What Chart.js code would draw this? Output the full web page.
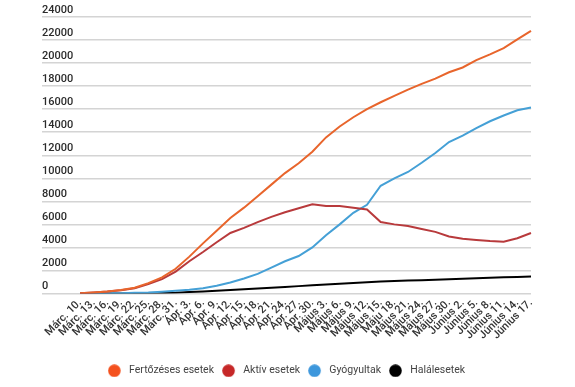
<!DOCTYPE html>
<html>
<head>
<meta charset="utf-8">
<script src="https://cdn.jsdelivr.net/npm/chart.js@4.4.1/dist/chart.umd.min.js"></script>
<style>
  html, body { margin: 0; padding: 0; background: #ffffff; }
  #wrap { position: relative; width: 575px; height: 387px; }
</style>
</head>
<body>
<div id="wrap"><canvas id="c"></canvas></div>
<script>
const dateLabels = ['Márc. 10.','Márc. 13.','Márc. 16.','Márc. 19.','Márc. 22.','Márc. 25.','Márc. 28.','Márc. 31.',
  'Ápr. 3.','Ápr. 6.','Ápr. 9.','Ápr. 12.','Ápr. 15.','Ápr. 18.','Ápr. 21.','Ápr. 24.','Ápr. 27.','Ápr. 30.',
  'Május 3.','Május 6.','Május 9.','Május 12.','Május 15.','Máju 18.','Május 21.','Május 24.','Május 27.','Május 30.',
  'Június 2.','Június 5.','Június 8.','Június 11.','Június 14.','Június 17.'];

const fertozesek = [25, 90, 180, 310, 500, 900, 1400, 2150, 3200, 4350, 5450, 6550, 7450, 8450, 9450, 10450, 11300, 12300,
  13550, 14500, 15300, 16000, 16600, 17150, 17700, 18200, 18650, 19200, 19620, 20250, 20750, 21300, 22050, 22800];
const aktiv = [20, 85, 165, 290, 460, 810, 1250, 1900, 2800, 3600, 4450, 5250, 5700, 6200, 6650, 7050, 7400, 7750,
  7600, 7600, 7450, 7300, 6200, 6000, 5850, 5600, 5350, 4950, 4750, 4650, 4550, 4500, 4800, 5250];
const gyogyultak = [5, 10, 20, 30, 55, 80, 150, 230, 330, 460, 680, 950, 1300, 1700, 2250, 2800, 3250, 4000,
  5050, 6000, 7000, 7700, 9350, 10000, 10550, 11350, 12200, 13150, 13700, 14350, 14950, 15450, 15900, 16150];
const halalesetek = [0, 0, 0, 0, 2, 17, 37, 69, 133, 180, 240, 300, 370, 440, 500, 560, 640, 720,
  790, 850, 910, 970, 1040, 1080, 1120, 1160, 1200, 1240, 1280, 1320, 1360, 1400, 1440, 1480];

const seriesNames = ['Fertőzéses esetek', 'Aktív esetek', 'Gyógyultak', 'Halálesetek'];
const yTicks = { min: 0, max: 24000, step: 2000 };

function dot(color) {
  const c = document.createElement('canvas');
  c.width = 16; c.height = 13;
  const g = c.getContext('2d');
  g.fillStyle = color;
  g.beginPath();
  g.arc(6.5, 6.5, 6.3, 0, Math.PI * 2);
  g.fill();
  return c;
}

function ds(label, data, line, fill) {
  return {
    label, data,
    borderColor: line,
    backgroundColor: fill,
    borderWidth: 2,
    pointRadius: 0,
    pointHoverRadius: 0,
    pointStyle: dot(fill),
    tension: 0,
    fill: false
  };
}

new Chart(document.getElementById('c'), {
  type: 'line',
  data: {
    labels: dateLabels,
    datasets: [
      ds(seriesNames[0], fertozesek, '#e8652c', '#f4511e'),
      ds(seriesNames[1], aktiv, '#b83a3c', '#c62828'),
      ds(seriesNames[2], gyogyultak, '#45a0d6', '#3d97dc'),
      ds(seriesNames[3], halalesetek, '#000000', '#000000')
    ]
  },
  options: {
    responsive: true,
    maintainAspectRatio: false,
    animation: false,
    devicePixelRatio: 1,
    layout: { padding: { top: 17, left: 42, right: 44, bottom: 1 } },
    plugins: {
      tooltip: { enabled: false },
      legend: {
        position: 'bottom',
        labels: {
          usePointStyle: true,
          pointStyleWidth: 16,
          padding: 8,
          color: '#444',
          font: { family: 'Roboto', size: 10.5 }
        }
      }
    },
    scales: {
      x: {
        type: 'category',
        offset: false,
        grid: { display: false, drawTicks: false },
        border: { display: false },
        afterFit: (s) => { s.height = 64; s.paddingLeft = 0; s.paddingRight = 0; },
        ticks: {
          autoSkip: false,
          minRotation: 45,
          maxRotation: 45,
          padding: 3,
          color: '#333',
          font: { family: 'Roboto', size: 11, weight: '500' }
        }
      },
      y: {
        position: 'left',
        min: yTicks.min,
        max: yTicks.max,
        afterFit: (s) => { s.width = 38; s.paddingTop = 0; s.paddingBottom = 0; },
        grid: { display: true, color: '#d4d4d4', lineWidth: 1.5, drawTicks: true, tickLength: 38, tickColor: '#d4d4d4' },
        border: { display: false },
        ticks: {
          stepSize: yTicks.step,
          crossAlign: 'far',
          labelOffset: -7,
          padding: 0,
          color: '#2b2b2b',
          font: { family: 'Roboto', size: 11, weight: '500' },
          callback: (v) => String(v)
        }
      }
    }
  }
});
</script>
</body>
</html>
